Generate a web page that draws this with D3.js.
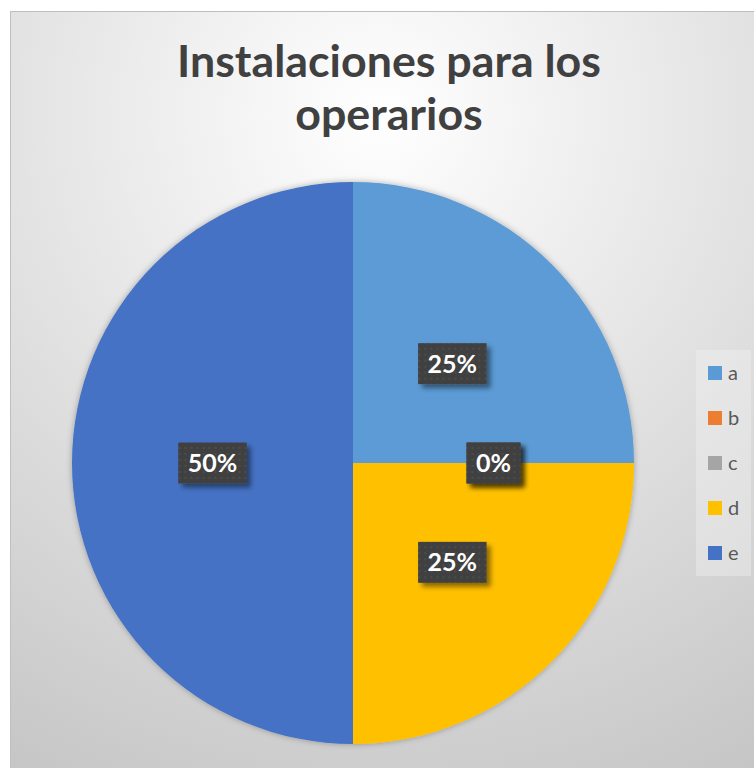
<!DOCTYPE html>
<html>
<head>
<meta charset="utf-8">
<script src="https://cdn.jsdelivr.net/npm/d3@7"></script>
<style>
  body { margin: 0; background: #ffffff; }
  svg { display: block; }
</style>
</head>
<body>
<div id="chart"></div>
<script>
    // data
    var categories = ["a", "b", "c", "d", "e"];
    var values = [1, 0, 0, 1, 2];
    var colors = ["#5B9BD5", "#ED7D31", "#A5A5A5", "#FFC000", "#4472C4"];
    var titleLines = ["Instalaciones para los", "operarios"];

    var width = 754, height = 768;
    var cx = 353, cy = 463, radius = 281;

    var svg = d3.select("#chart").append("svg")
        .attr("width", width)
        .attr("height", height);

    var defs = svg.append("defs");

    // chart area background (soft radial gradient)
    var grad = defs.append("radialGradient")
        .attr("id", "bg")
        .attr("gradientUnits", "userSpaceOnUse")
        .attr("cx", 380).attr("cy", 115).attr("r", 760);
    grad.append("stop").attr("offset", "0%").attr("stop-color", "#ffffff");
    grad.append("stop").attr("offset", "100%").attr("stop-color", "#c5c5c5");

    // dotted dark fill for the data labels
    var pat = defs.append("pattern")
        .attr("id", "dots")
        .attr("patternUnits", "userSpaceOnUse")
        .attr("width", 6).attr("height", 6);
    pat.append("rect").attr("width", 6).attr("height", 6).attr("fill", "#3f3f3f");
    pat.append("circle").attr("cx", 3).attr("cy", 3).attr("r", 1.2).attr("fill", "#4b4b4b");

    var lblShadow = defs.append("filter").attr("id", "lblShadow")
        .attr("x", "-30%").attr("y", "-30%").attr("width", "170%").attr("height", "170%");
    lblShadow.append("feDropShadow")
        .attr("dx", 4).attr("dy", 4).attr("stdDeviation", 2.5)
        .attr("flood-color", "#000").attr("flood-opacity", 0.45);

    var pieShadow = defs.append("filter").attr("id", "pieShadow")
        .attr("x", "-10%").attr("y", "-10%").attr("width", "120%").attr("height", "120%");
    pieShadow.append("feDropShadow")
        .attr("dx", 0).attr("dy", 0).attr("stdDeviation", 3)
        .attr("flood-color", "#000").attr("flood-opacity", 0.3);

    svg.append("rect")
        .attr("x", 10.5).attr("y", 11.5)
        .attr("width", 756).attr("height", 780)
        .attr("fill", "url(#bg)")
        .attr("stroke", "#bfbfbf")
        .attr("stroke-width", 1);

    // title, sized to the reference width
    var title = svg.append("text")
        .attr("text-anchor", "middle")
        .attr("font-family", "Lato, 'Open Sans', sans-serif")
        .attr("font-weight", "bold")
        .attr("fill", "#404040")
        .attr("font-size", 44);
    title.selectAll("tspan")
        .data(titleLines)
        .enter().append("tspan")
          .attr("x", 389)
          .attr("y", function(d, i) { return 77 + i * 53; })
          .text(function(d) { return d; });
    var w0 = title.select("tspan").node().getComputedTextLength();
    title.attr("font-size", 44 * 424 / w0);

    // pie
    var data = categories.map(function(c, i) { return {cat: c, value: values[i], color: colors[i]}; });
    var total = d3.sum(values);

    var pie = d3.pie().sort(null).value(function(d) { return d.value; });
    var arc = d3.arc().innerRadius(0).outerRadius(radius);
    var labelArc = d3.arc().innerRadius(radius / 2).outerRadius(radius / 2);
    var arcs = pie(data);

    var g = svg.append("g").attr("transform", "translate(" + cx + "," + cy + ")");

    g.append("g")
        .attr("filter", "url(#pieShadow)")
      .selectAll("path")
      .data(arcs)
      .enter().append("path")
        .attr("d", arc)
        .attr("fill", function(d) { return d.data.color; });

    // data labels
    var labels = g.selectAll("g.lbl")
        .data(arcs)
        .enter().append("g")
          .attr("class", "lbl")
          .attr("transform", function(d) { return "translate(" + labelArc.centroid(d) + ")"; });

    labels.append("text")
        .attr("text-anchor", "middle")
        .attr("dy", "0.36em")
        .attr("font-family", "Lato, 'Open Sans', sans-serif")
        .attr("font-weight", "bold")
        .attr("font-size", 25)
        .attr("fill", "#ffffff")
        .text(function(d) { return Math.round(d.data.value / total * 100) + "%"; });

    labels.each(function() {
        var gl = d3.select(this);
        var bb = gl.select("text").node().getBBox();
        var bw = bb.width + 19, bh = 41;
        gl.insert("rect", "text")
            .attr("x", -bw / 2).attr("y", -bh / 2)
            .attr("width", bw).attr("height", bh)
            .attr("fill", "url(#dots)")
            .attr("filter", "url(#lblShadow)");
    });

    // legend
    var legend = svg.append("g").attr("class", "legend");
    legend.append("rect")
        .attr("x", 696).attr("y", 350)
        .attr("width", 55).attr("height", 226)
        .attr("fill", "#f2f2f2")
        .attr("fill-opacity", 0.4);

    var ly = d3.scalePoint().domain(categories).range([373, 553]);
    var items = legend.selectAll("g.item")
        .data(data)
        .enter().append("g")
          .attr("class", "item")
          .attr("transform", function(d) { return "translate(708," + ly(d.cat) + ")"; });
    items.append("rect")
        .attr("x", 0).attr("y", -7)
        .attr("width", 14).attr("height", 14)
        .attr("fill", function(d) { return d.color; });
    items.append("text")
        .attr("x", 20).attr("dy", "0.35em")
        .attr("font-family", "Lato, 'Open Sans', sans-serif")
        .attr("font-size", 20)
        .attr("fill", "#595959")
        .text(function(d) { return d.cat; });
</script>
</body>
</html>
